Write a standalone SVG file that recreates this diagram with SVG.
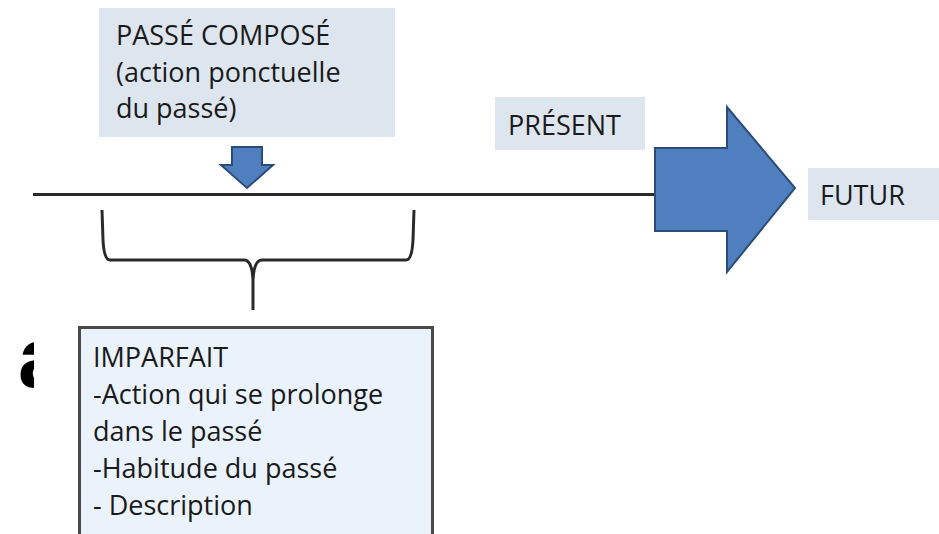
<svg xmlns="http://www.w3.org/2000/svg" width="939" height="534" viewBox="0 0 939 534">
<style>
.lbl{font-family:"Open Sans","Liberation Sans",sans-serif;font-size:27px;fill:#1a1a1a}
.box{fill:#dde5ef}
.blue{fill:#4f7fbf;stroke:#2b4c77;stroke-width:2;stroke-linejoin:miter}
.conn{fill:none;stroke:#2a2a2a;stroke-width:3}
</style>
<defs>
<clipPath id="clipA"><rect x="0" y="330" width="34" height="70"/></clipPath>
</defs>
<rect width="939" height="534" fill="#ffffff"/>
<g id="fragment" clip-path="url(#clipA)">
<text x="18" y="387" font-family="Liberation Sans, sans-serif" font-weight="bold" font-size="86" fill="#000">a</text>
</g>
<g id="connectors">
<line class="conn" x1="33" y1="194.5" x2="656" y2="194.5"/>
<path class="conn" stroke-width="2.5" d="M102,210 L103,240 Q104,260 110,260 L244,260 Q252,260 253,280 L253,310 M253,280 Q254,260 262,260 L406,260 Q412,260 413,240 L414,210"/>
</g>
<g id="passe-compose">
<rect class="box" x="99" y="8" width="296" height="129"/>
<text class="lbl" x="116" y="45">PASSÉ COMPOSÉ</text>
<text class="lbl" x="116" y="82">(action ponctuelle</text>
<text class="lbl" x="116" y="118">du passé)</text>
</g>
<g id="small-arrow">
<polygon class="blue" points="232,147 262,147 262,165 273,165 247,188 221,165 232,165"/>
</g>
<g id="present">
<rect class="box" x="495" y="97" width="150" height="53"/>
<text class="lbl" x="508" y="135">PRÉSENT</text>
</g>
<g id="big-arrow">
<polygon class="blue" points="655,148 727,148 727,107 795,188 727,272 727,231 655,231"/>
</g>
<g id="futur">
<rect class="box" x="808" y="168" width="131" height="52"/>
<text class="lbl" x="820" y="205">FUTUR</text>
</g>
<g id="imparfait">
<rect x="79.5" y="327.5" width="353" height="210" fill="#eaf2fb" stroke="#4a4a4a" stroke-width="3"/>
<text class="lbl" x="93" y="367">IMPARFAIT</text>
<text class="lbl" x="93" y="404">-Action qui se prolonge</text>
<text class="lbl" x="93" y="441">dans le passé</text>
<text class="lbl" x="93" y="478">-Habitude du passé</text>
<text class="lbl" x="93" y="515">- Description</text>
</g>
</svg>
